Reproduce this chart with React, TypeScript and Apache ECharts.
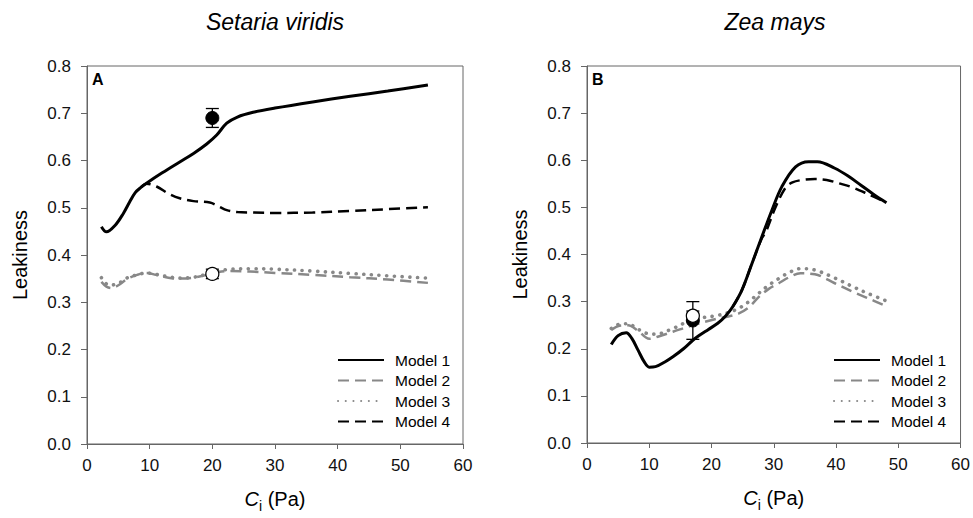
import React, { useEffect, useRef } from "react";
import * as echarts from "echarts";

// ---- Data ----
const xTicks = [0, 10, 20, 30, 40, 50, 60];
const yTicks = [0, 0.1, 0.2, 0.3, 0.4, 0.5, 0.6, 0.7, 0.8];
const modelNames = ["Model 1", "Model 2", "Model 3", "Model 4"];
const panelTitles = ["Setaria viridis", "Zea mays"];
const panelLetters = ["A", "B"];

// Panel A: Setaria viridis
const aModel1 = [
  [2.3, 0.46], [3.1, 0.449], [4.5, 0.463], [5.8, 0.488], [6.8, 0.512], [7.7, 0.532],
  [8.6, 0.543], [9.5, 0.552], [12, 0.574], [14.8, 0.597], [17, 0.615], [19.1, 0.635],
  [20.7, 0.654], [22.3, 0.679], [24, 0.692], [26.5, 0.702], [30, 0.711], [36, 0.724],
  [42, 0.736], [48, 0.747], [54.4, 0.76],
];
const aModel2 = [
  [2.3, 0.343], [3.1, 0.333], [3.9, 0.33], [5, 0.336], [6.5, 0.35], [8, 0.358],
  [9.5, 0.362], [11, 0.358], [13, 0.352], [14.8, 0.35], [17, 0.352], [19.1, 0.358],
  [21, 0.364], [22.8, 0.366], [26, 0.365], [30, 0.362], [36, 0.358], [42, 0.353],
  [48, 0.348], [54.4, 0.341],
];
const aModel3 = [
  [2.3, 0.352], [3, 0.34], [3.6, 0.336], [5, 0.34], [6.5, 0.352], [8, 0.358],
  [9.5, 0.362], [11, 0.359], [13, 0.354], [14.8, 0.351], [17, 0.353], [19.1, 0.359],
  [21, 0.366], [22.8, 0.37], [26, 0.371], [30, 0.37], [36, 0.366], [42, 0.361],
  [48, 0.356], [54.4, 0.351],
];
const aModel4 = [
  [8.6, 0.543], [9.5, 0.551], [11.1, 0.545], [13, 0.53], [14.8, 0.52], [17, 0.514],
  [19.6, 0.511], [21, 0.503], [22.3, 0.495], [24, 0.491], [26.5, 0.49], [30, 0.489],
  [36, 0.49], [42, 0.493], [48, 0.497], [54.4, 0.501],
];
// [Ci, leakiness, error]
const aMeasuredFilled = [[20, 0.69, 0.02]];
const aMeasuredOpen = [[20, 0.36, 0.01]];

// Panel B: Zea mays
const bModel1 = [
  [3.9, 0.209], [5, 0.228], [6.3, 0.234], [7.2, 0.222], [8.2, 0.197], [9.2, 0.172],
  [10, 0.161], [11, 0.162], [12.5, 0.172], [13.8, 0.183], [15.5, 0.2], [17, 0.218],
  [18, 0.228], [19.5, 0.241], [21, 0.254], [22.3, 0.27], [23.4, 0.289], [24.9, 0.325],
  [26.5, 0.381], [28.1, 0.438], [29.7, 0.494], [31.3, 0.544], [33.5, 0.586], [35.6, 0.597],
  [37, 0.597], [39.8, 0.583], [42, 0.566], [44, 0.547], [46, 0.528], [48.1, 0.51],
];
const bModel2 = [
  [3.9, 0.24], [5.2, 0.249], [6.6, 0.25], [8.2, 0.238], [10, 0.221], [11.5, 0.226],
  [13.8, 0.236], [17, 0.25], [20.7, 0.263], [22.5, 0.268], [24.4, 0.275], [26, 0.288],
  [27.6, 0.31], [29.2, 0.327], [30.8, 0.339], [32.5, 0.352], [34.3, 0.36], [36.6, 0.358],
  [39.8, 0.339], [42.5, 0.322], [45, 0.308], [47.8, 0.292],
];
const bModel3 = [
  [3.9, 0.243], [5.5, 0.253], [6.6, 0.253], [8, 0.243], [9.5, 0.233], [11.1, 0.231],
  [13.8, 0.243], [17, 0.262], [20.7, 0.27], [22.5, 0.276], [24.4, 0.286], [26, 0.3],
  [27.6, 0.318], [29.2, 0.335], [30.8, 0.349], [32.5, 0.362], [34.3, 0.37], [36.6, 0.367],
  [39.8, 0.35], [42.5, 0.333], [45, 0.318], [48, 0.302],
];
const bModel4 = [
  [23.4, 0.289], [24.9, 0.325], [26.5, 0.381], [28.1, 0.435], [28.7, 0.447], [30.3, 0.501],
  [31.9, 0.542], [33, 0.553], [34.5, 0.558], [36.6, 0.56], [38.5, 0.558], [40.5, 0.551],
  [42.5, 0.543], [45, 0.529], [48.1, 0.51],
];
const bMeasuredFilled = [[17, 0.26, 0.04]];
const bMeasuredOpen = [[17, 0.27, 0.01]];

const FONT = "'Liberation Sans', Arial, Helvetica, sans-serif";
const AXIS_COLOR = "#666";

const lineStyles: any[] = [
  { color: "#000", width: 3, type: "solid" },
  { color: "#888", width: 2.5, type: [11, 6] },
  { color: "#888", width: 3.6, type: [0.1, 7.6], cap: "round" },
  { color: "#000", width: 2.5, type: [11, 6] },
];

function buildOption() {
  const grids = [
    { left: 87, top: 66, width: 376, height: 378 },
    { left: 587, top: 66, width: 376, height: 377 },
  ].map((g) => ({ ...g, show: true, borderColor: AXIS_COLOR, borderWidth: 1, backgroundColor: "transparent" }));

  const xAxes = [0, 1].map((i) => ({
    type: "value",
    gridIndex: i,
    min: xTicks[0],
    max: xTicks[xTicks.length - 1],
    interval: xTicks[1] - xTicks[0],
    name: "{c|C}{s|i}{n| (Pa)}",
    nameLocation: "middle",
    nameGap: 41,
    nameTextStyle: {
      fontFamily: FONT,
      rich: {
        c: { fontFamily: FONT, fontSize: 20, fontStyle: "italic", color: "#000", lineHeight: 28, verticalAlign: "middle" },
        s: { fontFamily: FONT, fontSize: 14, color: "#000", lineHeight: 14, verticalAlign: "bottom" },
        n: { fontFamily: FONT, fontSize: 20, color: "#000", lineHeight: 28, verticalAlign: "middle" },
      },
    },
    axisLine: { show: true, lineStyle: { color: AXIS_COLOR, width: 1 } },
    axisTick: { show: true, inside: false, length: 5, lineStyle: { color: AXIS_COLOR } },
    axisLabel: { fontFamily: FONT, fontSize: 17, color: "#111", margin: 13 },
    splitLine: { show: false },
  }));

  const yAxes = [0, 1].map((i) => ({
    type: "value",
    gridIndex: i,
    min: yTicks[0],
    max: yTicks[yTicks.length - 1],
    interval: 0.1,
    name: "Leakiness",
    nameLocation: "middle",
    nameGap: 57,
    nameTextStyle: { fontFamily: FONT, fontSize: 20, color: "#000" },
    axisLine: { show: true, lineStyle: { color: AXIS_COLOR, width: 1 } },
    axisTick: { show: true, inside: false, length: 6, lineStyle: { color: AXIS_COLOR } },
    axisLabel: {
      fontFamily: FONT,
      fontSize: 17,
      color: "#111",
      margin: 16,
      formatter: (v: number) => v.toFixed(1),
    },
    splitLine: { show: false },
  }));

  const panels = [
    { models: [aModel1, aModel2, aModel3, aModel4], filled: aMeasuredFilled, open: aMeasuredOpen },
    { models: [bModel1, bModel2, bModel3, bModel4], filled: bMeasuredFilled, open: bMeasuredOpen },
  ];

  const series: any[] = [];
  panels.forEach((p, pi) => {
    p.models.forEach((data, mi) => {
      series.push({
        type: "line",
        name: modelNames[mi],
        xAxisIndex: pi,
        yAxisIndex: pi,
        data,
        smooth: 0.35,
        symbol: "none",
        showSymbol: false,
        lineStyle: lineStyles[mi],
        itemStyle: { color: lineStyles[mi].color },
        z: mi === 0 ? 3 : 2,
      });
    });
    const errSeries = (data: number[][]) => ({
      type: "custom",
      xAxisIndex: pi,
      yAxisIndex: pi,
      data,
      encode: { x: 0, y: 1 },
      z: 5,
      renderItem: (_params: any, api: any) => {
        const x = api.value(0);
        const y = api.value(1);
        const e = api.value(2);
        const top = api.coord([x, y + e]);
        const bot = api.coord([x, y - e]);
        const hw = 6.5;
        const st = { stroke: "#000", lineWidth: 1.3 };
        return {
          type: "group",
          children: [
            { type: "line", shape: { x1: top[0], y1: top[1], x2: bot[0], y2: bot[1] }, style: st },
            { type: "line", shape: { x1: top[0] - hw, y1: top[1], x2: top[0] + hw, y2: top[1] }, style: st },
            { type: "line", shape: { x1: bot[0] - hw, y1: bot[1], x2: bot[0] + hw, y2: bot[1] }, style: st },
          ],
        };
      },
    });
    series.push(errSeries(p.filled));
    series.push(errSeries(p.open));
    series.push({
      type: "scatter",
      xAxisIndex: pi,
      yAxisIndex: pi,
      data: p.filled.map((d) => [d[0], d[1]]),
      symbol: "circle",
      symbolSize: 13,
      itemStyle: { color: "#000", borderColor: "#000", borderWidth: 1, opacity: 1 },
      z: 6,
    });
    series.push({
      type: "scatter",
      xAxisIndex: pi,
      yAxisIndex: pi,
      data: p.open.map((d) => [d[0], d[1]]),
      symbol: "circle",
      symbolSize: 13,
      itemStyle: { color: "#fff", borderColor: "#000", borderWidth: 1.2, opacity: 1 },
      z: 7,
    });
  });

  const legends = [337, 833].map((left) => ({
    data: modelNames,
    orient: "vertical",
    left,
    top: 352,
    padding: 0,
    itemWidth: 46,
    itemHeight: 14,
    itemGap: 4.5,
    selectedMode: false,
    itemStyle: { color: "transparent", borderColor: "transparent", borderWidth: 0 },
    textStyle: { fontFamily: FONT, fontSize: 15.5, color: "#000", padding: [0, 0, 0, 6] },
  }));

  const graphic: any[] = [];
  [275, 775].forEach((cx, i) => {
    graphic.push({
      type: "text",
      x: cx,
      y: 22,
      style: {
        text: panelTitles[i],
        font: `italic 23px ${FONT}`,
        fill: "#000",
        textAlign: "center",
        textVerticalAlign: "middle",
      },
    });
  });
  [92, 592].forEach((lx, i) => {
    graphic.push({
      type: "text",
      x: lx,
      y: 79,
      style: {
        text: panelLetters[i],
        font: `bold 16px ${FONT}`,
        fill: "#000",
        textAlign: "left",
        textVerticalAlign: "middle",
      },
    });
  });

  return {
    animation: false,
    backgroundColor: "#fff",
    grid: grids,
    xAxis: xAxes,
    yAxis: yAxes,
    legend: legends,
    series,
    graphic,
  };
}

export default function App() {
  const ref = useRef<HTMLDivElement>(null);
  useEffect(() => {
    if (!ref.current) return;
    const chart = echarts.init(ref.current, null, { renderer: "svg" });
    chart.setOption(buildOption() as any);
    return () => chart.dispose();
  }, []);
  return (
    <div
      ref={ref}
      style={{ position: "absolute", left: 0, top: 0, width: 973, height: 518, background: "#fff" }}
    />
  );
}
